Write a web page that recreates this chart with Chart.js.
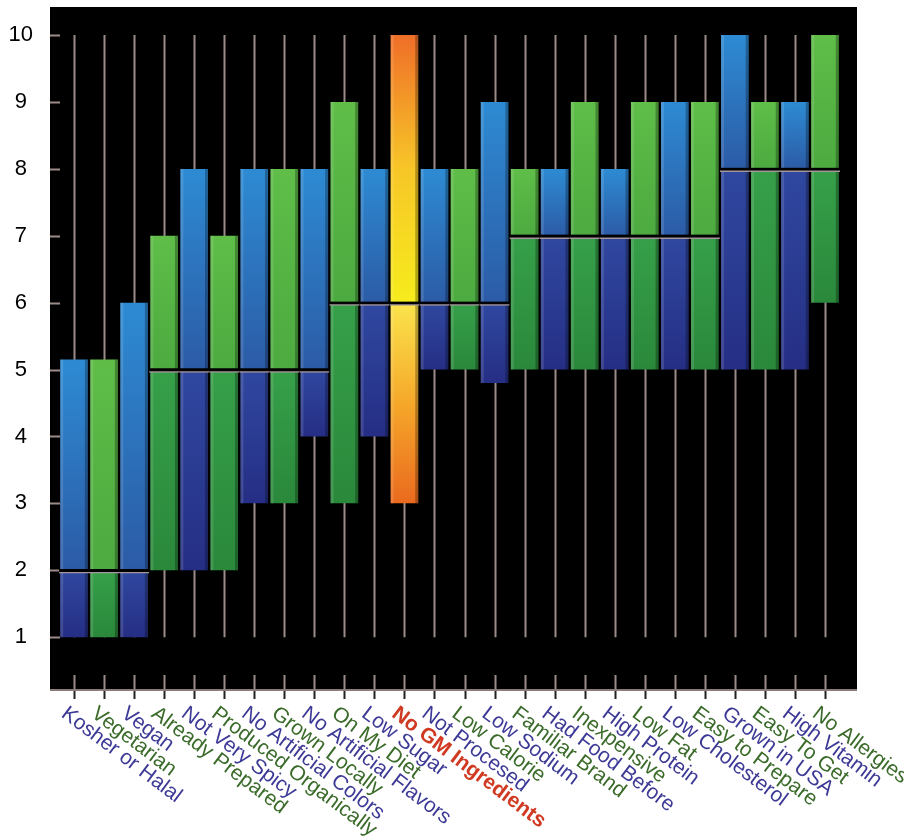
<!DOCTYPE html>
<html>
<head>
<meta charset="utf-8">
<script src="https://cdn.jsdelivr.net/npm/chart.js@4.4.1/dist/chart.umd.min.js"></script>
<style>
  html, body { margin: 0; padding: 0; background: #fff; }
</style>
</head>
<body>
<canvas id="chart" width="904" height="839"></canvas>
<script>
// rango (min - max) de cada atributo, con la mediana del grupo
const categories = [
  "Kosher or Halal", "Vegetarian", "Vegan", "Already Prepared", "Not Very Spicy",
  "Produced Organically", "No Artificial Colors", "Grown Locally", "No Artificial Flavors",
  "On My Diet", "Low Sugar", "No GM Ingredients", "Not Procesed", "Low Calorie",
  "Low Sodium", "Familiar Brand", "Had Food Before", "Inexpensive", "High Protein",
  "Low Fat", "Low Cholesterol", "Easy to Prepare", "Grown in USA", "Easy To Get",
  "High Vitamin", "No Allergies"
];
const lows    = [1, 1, 1, 2, 2, 2, 3, 3, 4, 3, 4, 3, 5, 5, 4.8, 5, 5, 5, 5, 5, 5, 5, 5, 5, 5, 6];
const medians = [2, 2, 2, 5, 5, 5, 5, 5, 5, 6, 6, 6, 6, 6, 6, 7, 7, 7, 7, 7, 7, 7, 8, 8, 8, 8];
const highs   = [5.15, 5.15, 6, 7, 8, 7, 8, 8, 8, 9, 8, 10, 8, 8, 9, 8, 8, 9, 8, 9, 9, 9, 10, 9, 9, 10];
const yTicks  = [1, 2, 3, 4, 5, 6, 7, 8, 9, 10];
const highlight = "No GM Ingredients";

const FONT = "'Liberation Sans', Arial, sans-serif";

const palette = {
  blue:   { upper: ["#2d8bd3", "#2c5ba6"], lower: ["#3048a0", "#252e84"], text: "#3d3a96" },
  green:  { upper: ["#5fbd48", "#4caa40"], lower: ["#36a049", "#2a883b"], text: "#3b6b2a" },
  orange: { upper: ["#ef6e28", "#f7c628", "#f6ec1c"], lower: ["#fbe44c", "#f5a82a", "#ea6a1e"], text: "#d03a22" }
};

function kind(i) {
  if (categories[i] === highlight) return "orange";
  return i % 2 === 0 ? "blue" : "green";
}

// degradado vertical para cada trozo de barra
function barFill(part) {
  return (c) => {
    const chart = c.chart;
    const i = c.dataIndex;
    const stops = palette[kind(i)][part];
    if (c.type !== "data" || !chart.chartArea) return stops[0];
    const y = chart.scales.y;
    const from = part === "upper" ? highs[i] : medians[i];
    const to = part === "upper" ? medians[i] : lows[i];
    const g = chart.ctx.createLinearGradient(0, y.getPixelForValue(from), 0, y.getPixelForValue(to));
    stops.forEach((s, k) => g.addColorStop(k / (stops.length - 1), s));
    return g;
  };
}

const backdrop = {
  id: "backdrop",
  beforeDraw(chart) {
    const { ctx, chartArea: a, scales: { x, y } } = chart;
    const left = a.left - 9, right = a.right + 17;
    ctx.save();
    ctx.fillStyle = "#000";
    ctx.fillRect(left, a.top, right - left, a.bottom - a.top);
    // lineas verticales de cada categoria
    ctx.strokeStyle = "#9c8c88";
    ctx.lineWidth = 2;
    categories.forEach((_, i) => {
      const px = Math.round(x.getPixelForValue(i)) + 0.5;
      ctx.beginPath();
      ctx.moveTo(px, y.getPixelForValue(yTicks[yTicks.length - 1]));
      ctx.lineTo(px, y.getPixelForValue(yTicks[0]));
      ctx.moveTo(px, a.bottom - 15);
      ctx.lineTo(px, a.bottom);
      ctx.stroke();
    });
    ctx.strokeStyle = "#222";
    categories.forEach((_, i) => {
      const px = Math.round(x.getPixelForValue(i)) + 0.5;
      ctx.beginPath();
      ctx.moveTo(px, a.bottom);
      ctx.lineTo(px, a.bottom + 9);
      ctx.stroke();
    });
    // eje inferior
    ctx.strokeStyle = "#8c7c78";
    ctx.beginPath();
    ctx.moveTo(left, a.bottom);
    ctx.lineTo(right, a.bottom);
    ctx.stroke();
    // marcas del eje Y
    ctx.strokeStyle = "#9c8c88";
    yTicks.forEach(v => {
      const py = Math.round(y.getPixelForValue(v)) + 0.5;
      ctx.beginPath();
      ctx.moveTo(left, py);
      ctx.lineTo(left + 10, py);
      ctx.stroke();
    });
    ctx.restore();
  },
  afterDatasetDraw(chart, args) {
    if (args.index === 0) return;
    const ctx = chart.ctx;
    ctx.save();
    args.meta.data.forEach(el => {
      const { x, y, base, width } = el.getProps(["x", "y", "base", "width"], true);
      const top = Math.min(y, base), h = Math.abs(base - y);
      const l = x - width / 2;
      ctx.fillStyle = "rgba(255,255,255,0.13)";
      ctx.fillRect(l, top, 3, h);
      ctx.fillStyle = "rgba(0,0,0,0.28)";
      ctx.fillRect(l + width - 3, top, 3, h);
    });
    ctx.restore();
  },
  afterDraw(chart) {
    const { ctx, chartArea: a, scales: { x } } = chart;
    ctx.save();
    ctx.textAlign = "left";
    ctx.textBaseline = "top";
    categories.forEach((label, i) => {
      const px = x.getPixelForValue(i);
      ctx.save();
      ctx.translate(px - 4, a.bottom + 13);
      ctx.rotate(37 * Math.PI / 180);
      ctx.font = (label === highlight ? "bold " : "") + "21px " + FONT;
      ctx.fillStyle = palette[kind(i)].text;
      ctx.fillText(label, 0, 0);
      ctx.restore();
    });
    ctx.restore();
  }
};

const bar = { grouped: false, categoryPercentage: 1, borderSkipped: false };

new Chart(document.getElementById("chart"), {
  type: "bar",
  data: {
    labels: categories,
    datasets: [
      {
        ...bar,
        label: "Mediana",
        data: medians.map(m => [m - 0.042, m + 0.018]),
        backgroundColor: "#000",
        borderColor: "#a4979b",
        borderWidth: { top: 0, right: 0, left: 0, bottom: 1.5 },
        barPercentage: 1,
        order: 0
      },
      {
        ...bar,
        label: "Superior",
        data: medians.map((m, i) => [m, highs[i]]),
        backgroundColor: barFill("upper"),
        borderWidth: 0,
        barPercentage: 0.92,
        order: 1
      },
      {
        ...bar,
        label: "Inferior",
        data: lows.map((l, i) => [l, medians[i]]),
        backgroundColor: barFill("lower"),
        borderWidth: 0,
        barPercentage: 0.92,
        order: 2
      }
    ]
  },
  options: {
    responsive: false,
    animation: false,
    layout: { padding: { top: 7, right: 64, bottom: 149, left: 0 } },
    plugins: { legend: { display: false }, tooltip: { enabled: false } },
    scales: {
      x: { display: false },
      y: {
        min: 0.21,
        max: 10.42,
        afterBuildTicks: s => { s.ticks = yTicks.map(v => ({ value: v })); },
        afterFit: s => { s.width = 59; s.paddingTop = 0; s.paddingBottom = 0; },
        grid: { display: false, drawTicks: false },
        border: { display: false },
        ticks: { color: "#000", font: { family: FONT, size: 22 }, padding: 26, crossAlign: "center" }
      }
    }
  },
  plugins: [backdrop]
});
</script>
</body>
</html>
